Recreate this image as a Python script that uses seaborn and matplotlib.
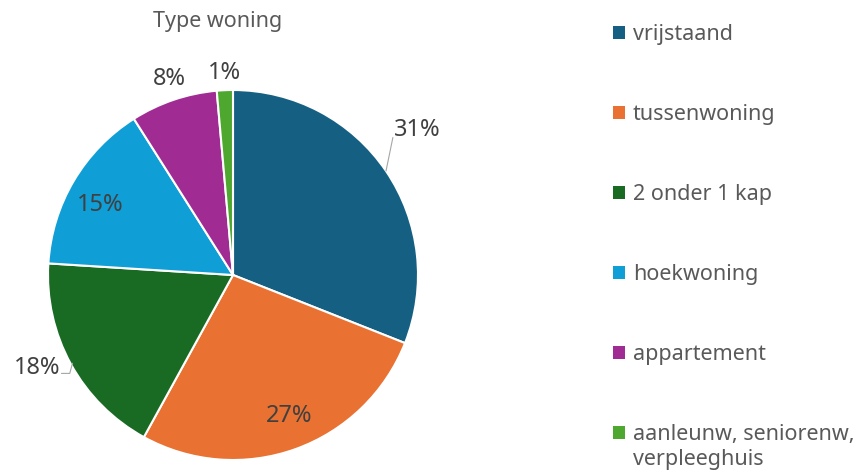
import numpy as np
import matplotlib
matplotlib.use("Agg")
import matplotlib.pyplot as plt
import seaborn as sns
from matplotlib.patches import Patch

# data
categories = ["vrijstaand", "tussenwoning", "2 onder 1 kap", "hoekwoning",
              "appartement", "aanleunw, seniorenw,"]
last_label_cont = "verpleeghuis"
shares = [31, 27, 18, 15, 7.6, 1.4]
pct_labels = ["31%", "27%", "18%", "15%", "8%", "1%"]
colors = ["#156082", "#E97132", "#196B24", "#0F9ED5", "#A02B93", "#4EA72E"]

sns.set_theme(style="white")
plt.rcParams['font.family'] = ['Noto Sans', 'DejaVu Sans']
text_grey = "#595959"

fig = plt.figure(figsize=(8.68, 4.76), dpi=100)
W, H = 868, 476
cx, cy, R = 233, 275, 185
ax = fig.add_axes([(cx - R) / W, (H - cy - R) / H, 2 * R / W, 2 * R / H])

wedges, _ = ax.pie(shares, colors=sns.color_palette(colors), startangle=90,
                   counterclock=False, radius=1,
                   wedgeprops=dict(edgecolor="white", linewidth=1.5))
ax.set_xlim(-1, 1)
ax.set_ylim(-1, 1)
ax.set_aspect("equal")
ax.axis("off")

# label placement: distance from centre and small angle nudge (degrees)
label_dist = [1.27, 0.82, 1.17, 0.81, 1.115, 1.095]
label_nudge = [4.0, 1.9, -3.4, 2.8, -0.9, 0.0]
mids = []
for w, lab, d, nd in zip(wedges, pct_labels, label_dist, label_nudge):
    mid = (w.theta1 + w.theta2) / 2
    mids.append(mid)
    ang = np.deg2rad(mid + nd)
    ax.text(d * np.cos(ang), d * np.sin(ang), lab, ha="center",
            va="center", fontsize=17, color="#404040")

# leader lines for 31% and 18%
a0 = np.deg2rad(mids[0])
a1 = np.deg2rad(mids[0] + 6.5)
ax.plot([np.cos(a0), 1.14 * np.cos(a1)], [np.sin(a0), 1.14 * np.sin(a1)],
        color="#A6A6A6", lw=0.8, clip_on=False)
a2 = np.deg2rad(mids[2])
x0, y0 = 0.99 * np.cos(a2), 0.99 * np.sin(a2)
ax.plot([x0, x0 - 0.015, x0 - 0.06], [y0, y0 - 0.055, y0 - 0.055],
        color="#A6A6A6", lw=0.8, clip_on=False)

fig.text(218 / W, 1 - 22 / H, "Type woning", ha="center", va="center",
         fontsize=15.5, color=text_grey)

handles = [Patch(facecolor=c, edgecolor="none") for c in colors]
leg = fig.legend(handles, categories, loc="upper left",
                 bbox_to_anchor=(594 / W, 1 - 5 / H), frameon=False,
                 fontsize=15.5, labelcolor=text_grey, handlelength=0.55,
                 handleheight=0.55, handletextpad=0.35, labelspacing=2.74)

# second line of the last legend entry
fig.canvas.draw()
bb = leg.get_texts()[-1].get_window_extent()
fig.text(bb.x0 / W, (bb.y0 - 4) / H, last_label_cont, ha="left", va="top",
         fontsize=15.5, color=text_grey)

fig.savefig("out.png", dpi=100)
